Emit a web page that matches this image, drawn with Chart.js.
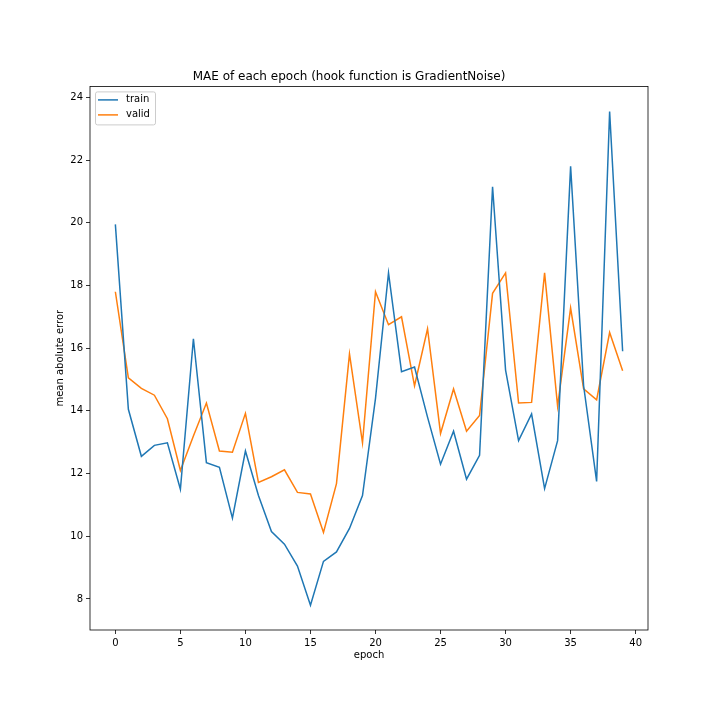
<!DOCTYPE html>
<html>
<head>
<meta charset="utf-8">
<script src="https://cdn.jsdelivr.net/npm/chart.js@4/dist/chart.umd.min.js"></script>
<style>
  html, body { margin: 0; padding: 0; background: #fff; }
  #wrap { width: 720px; height: 720px; }
</style>
</head>
<body>
<div id="wrap"><canvas id="myChart-mae"></canvas></div>
<script>
// epochs 0..39
var epochs = [0,1,2,3,4,5,6,7,8,9,10,11,12,13,14,15,16,17,18,19,
              20,21,22,23,24,25,26,27,28,29,30,31,32,33,34,35,36,37,38,39];

var train_mae = [19.95, 14.05, 12.55, 12.9, 12.98, 11.5, 16.3, 12.35, 12.2, 10.58,
                 12.72, 11.3, 10.15, 9.75, 9.05, 7.8, 9.2, 9.5, 10.25, 11.3,
                 14.4, 18.4, 15.25, 15.4, 13.8, 12.3, 13.35, 11.82, 12.58, 21.15,
                 15.3, 13.05, 13.9, 11.52, 13.05, 21.8, 14.8, 11.75, 23.55, 15.9];

var valid_mae = [17.8, 15.05, 14.72, 14.5, 13.75, 12.1, 13.2, 14.25, 12.72, 12.68,
                 13.92, 11.72, 11.9, 12.12, 11.4, 11.35, 10.12, 11.68, 15.82, 12.98,
                 17.8, 16.75, 17.0, 14.8, 16.62, 13.28, 14.7, 13.35, 13.85, 17.75,
                 18.4, 14.25, 14.27, 18.4, 14.15, 17.28, 14.7, 14.35, 16.5, 15.28];

var x_ticks = [0, 5, 10, 15, 20, 25, 30, 35, 40];
var y_ticks = [8, 10, 12, 14, 16, 18, 20, 22, 24];

function toPoints(ys){
    var pts = [];
    for (let i = 0; i < epochs.length; i++) {
        pts.push({x: epochs[i], y: ys[i]});
    }
    return pts;
}

// frame round the plot area plus a matplotlib style legend in the top left
var framePlugin = {
    id: 'frame',
    afterDraw: function(chart){
        var c = chart.ctx;
        var a = chart.chartArea;
        c.save();

        var lx = a.left + 5, ly = a.top + 5;
        c.fillStyle = 'rgba(255,255,255,0.8)';
        c.strokeStyle = '#cccccc';
        c.lineWidth = 1;
        c.beginPath();
        c.roundRect(lx + 0.5, ly + 0.5, 60, 33, 2);
        c.fill();
        c.stroke();

        c.font = '10px "DejaVu Sans"';
        c.textBaseline = 'middle';
        chart.data.datasets.forEach(function(ds, i){
            var y = ly + 8.5 + i * 15;
            c.strokeStyle = ds.borderColor;
            c.lineWidth = 1.5;
            c.beginPath();
            c.moveTo(lx + 3, y);
            c.lineTo(lx + 23, y);
            c.stroke();
            c.fillStyle = '#000';
            c.fillText(ds.label, lx + 31, y);
        });

        c.strokeStyle = '#000';
        c.lineWidth = 0.8;
        c.strokeRect(a.left, a.top, a.right - a.left, a.bottom - a.top);
        c.restore();
    }
};

Chart.defaults.font.family = 'DejaVu Sans';
Chart.defaults.color = '#000';

var ctx = document.getElementById('myChart-mae').getContext('2d');
var chart = new Chart(ctx, {
    type: 'line',
    data: {
        datasets: [{
            label: 'train',
            data: toPoints(train_mae),
            borderColor: '#1f77b4',
            backgroundColor: '#1f77b4',
            borderWidth: 1.5,
            pointRadius: 0,
            tension: 0
        },{
            label: 'valid',
            data: toPoints(valid_mae),
            borderColor: '#ff7f0e',
            backgroundColor: '#ff7f0e',
            borderWidth: 1.5,
            pointRadius: 0,
            tension: 0
        }]
    },
    options: {
        responsive: true,
        maintainAspectRatio: false,
        animation: false,
        layout: { padding: { top: 70, left: 50, right: 72, bottom: 55 } },
        plugins: {
            title: {
                display: true,
                text: 'MAE of each epoch (hook function is GradientNoise)',
                font: { size: 12, weight: 'normal' },
                padding: { top: 0, bottom: 2 },
                color: '#000'
            },
            legend: { display: false },
            tooltip: { enabled: false }
        },
        scales: {
            x: {
                type: 'linear',
                min: -1.95,
                max: 40.95,
                afterBuildTicks: function(scale){
                    scale.ticks = x_ticks.map(function(v){ return {value: v}; });
                },
                afterFit: function(scale){ scale.height = 35; },
                ticks: { font: { size: 10 }, padding: 3, maxRotation: 0, color: '#000' },
                grid: { drawOnChartArea: false, drawTicks: true, tickLength: 4, color: '#000', tickWidth: 0.8 },
                border: { display: false },
                title: { display: true, text: 'epoch', font: { size: 10 }, color: '#000' }
            },
            y: {
                type: 'linear',
                min: 7.01,
                max: 24.35,
                afterBuildTicks: function(scale){
                    scale.ticks = y_ticks.map(function(v){ return {value: v}; });
                },
                afterFit: function(scale){ scale.width = 40; },
                ticks: { font: { size: 10 }, padding: 3, color: '#000' },
                grid: { drawOnChartArea: false, drawTicks: true, tickLength: 4, color: '#000', tickWidth: 0.8 },
                border: { display: false },
                title: { display: true, text: 'mean abolute error', font: { size: 10 }, color: '#000' }
            }
        }
    },
    plugins: [framePlugin]
});
</script>
</body>
</html>
